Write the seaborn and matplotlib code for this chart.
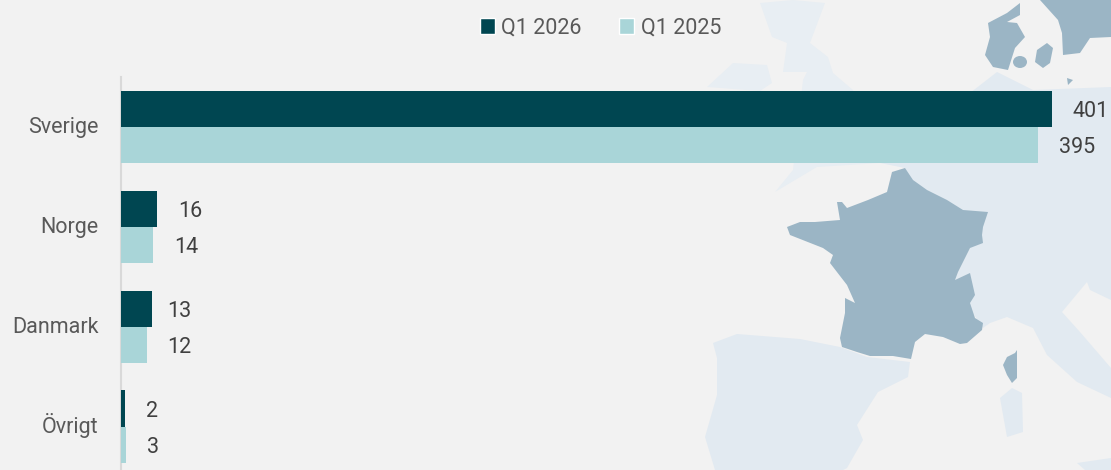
import seaborn as sns
import pandas as pd
import matplotlib.pyplot as plt
from matplotlib.patches import Polygon, Ellipse, Patch
from matplotlib.transforms import ScaledTranslation

categories = ["Sverige", "Norge", "Danmark", "Övrigt"]
# bar lengths, printed labels are the rounded figures
q1_2026 = [401, 15.5, 13.2, 1.6]
q1_2025 = [395, 13.8, 11.1, 2.15]
labels_2026 = ["401", "16", "13", "2"]
labels_2025 = ["395", "14", "12", "3"]
series_names = ["Q1 2026", "Q1 2025"]

BG = "#F2F2F2"
DARK = "#004651"
LIGHT = "#A9D5D8"
MAP_LIGHT = "#E2EAF1"
MAP_FAINT = "#E8EEF3"
MAP_DARK = "#9BB5C5"

# background map, outlines traced by hand in pixels
france = [(787,227),(800,222),(815,222),(840,220),(837,202),(842,202),(847,208),(868,200),(887,192),
          (892,172),(905,168),(913,180),(927,190),(947,200),(963,210),(988,212),(983,227),(982,235),
          (983,243),(970,248),(958,272),(955,280),(970,273),(975,295),(970,303),(975,318),(983,323),
          (982,330),(967,343),(960,344),(943,337),(925,334),(915,342),(911,359),(893,356),(870,356),
          (857,352),(842,347),(840,338),(845,313),(845,298),(855,303),(847,285),(830,263),(833,255),
          (823,248),(790,235)]
corsica = [(1017,350),(1017,378),(1012,383),(1007,375),(1003,365),(1007,357),(1015,353)]
jutland = [(1020,3),(1020,15),(1007,22),(1017,23),(1025,37),(1015,48),(1008,70),(993,67),(985,55),
           (990,37),(988,23),(1007,13)]
zealand = [(1037,50),(1047,43),(1053,48),(1050,63),(1043,68),(1035,62)]
sweden = [(1040,0),(1058,20),(1062,33),(1063,55),(1080,53),(1090,38),(1111,37),(1111,0)]
bornholm = [(1067,78),(1073,80),(1068,85)]
iberia = [(713,343),(737,334),(800,339),(840,347),(867,357),(910,362),(908,377),(878,392),(857,425),
          (863,440),(847,468),(843,470),(715,470),(705,437),(717,395),(717,358)]
europe = [(905,168),(880,163),(997,72),(1033,90),(1111,87),(1111,300),(1090,290),(1087,282),(1062,312),
          (1080,332),(1111,368),(1111,398),(1077,382),(1047,355),(1033,328),(1007,317),(990,323),(983,328),
          (950,280)]
britain = [(760,3),(793,0),(825,3),(810,43),(828,57),(833,73),(853,90),(880,163),(817,167),(775,192),
           (793,170),(803,80),(807,72),(783,72),(787,43),(772,37)]
ireland = [(707,87),(733,63),(767,65),(772,83),(760,91)]
sardinia = [(1000,398),(1012,388),(1022,393),(1023,432),(1007,437)]
sicily = [(1077,463),(1111,458),(1111,470),(1085,470)]

df = pd.DataFrame({
    "Land": categories * 2,
    "Antal": q1_2026 + q1_2025,
    "Period": [series_names[0]] * len(categories) + [series_names[1]] * len(categories),
})

sns.set_theme(style="white")
plt.rcParams["font.family"] = ["Roboto", "DejaVu Sans"]

W, H = 1111, 470
fig = plt.figure(figsize=(W / 100, H / 100), dpi=100, facecolor=BG)

bg = fig.add_axes([0, 0, 1, 1], zorder=0)
bg.set_xlim(0, W)
bg.set_ylim(H, 0)
bg.axis("off")
for shape in [iberia, europe, sardinia, sicily]:
    bg.add_patch(Polygon(shape, closed=True, facecolor=MAP_LIGHT, edgecolor="none"))
for shape in [britain, ireland]:
    bg.add_patch(Polygon(shape, closed=True, facecolor=MAP_FAINT, edgecolor="none"))
for shape in [france, corsica, jutland, zealand, sweden, bornholm]:
    bg.add_patch(Polygon(shape, closed=True, facecolor=MAP_DARK, edgecolor="none", zorder=2))
bg.add_patch(Ellipse((1020, 62), 14, 12, facecolor=MAP_DARK, edgecolor="none", zorder=2))

# axes box runs a little past the bottom edge of the picture
ax = fig.add_axes([121 / W, -6.5 / H, 990 / W, 400 / H], zorder=1)
ax.patch.set_alpha(0)
sns.barplot(data=df, y="Land", x="Antal", hue="Period", order=categories,
            palette=[DARK, LIGHT], width=0.72, gap=0, saturation=1, legend=False,
            linewidth=0, ax=ax)
ax.set_xlim(0, 990 / 2.322)
ax.set_ylim(3.5, -0.5)
ax.set_xlabel("")
ax.set_ylabel("")
ax.set_xticks([])
ax.tick_params(axis="y", length=0, pad=16, labelsize=15.5, labelcolor="#595959")
# same baseline offset for every row, the Ö would push a centred label down
for lab in ax.get_yticklabels():
    lab.set_verticalalignment("baseline")
    lab.set_transform(lab.get_transform() + ScaledTranslation(0, -5 / 72, fig.dpi_scale_trans))
for side in ["top", "right", "bottom"]:
    ax.spines[side].set_visible(False)
ax.spines["left"].set_color("#D9D9D9")
ax.spines["left"].set_linewidth(1.5)
ax.spines["left"].set_zorder(0.5)

for cont, labs in zip(ax.containers, [labels_2026, labels_2025]):
    texts = ax.bar_label(cont, labels=labs, padding=15, fontsize=15.5, color="#404040", clip_on=False)
    for t in texts:
        # labels sit a bit lower than the bar centre in the original
        t.xyann = (15 if t.get_text() != "13" else 11.5, -1.9)

handles = [Patch(facecolor=DARK, label=series_names[0]), Patch(facecolor=LIGHT, label=series_names[1])]
fig.legend(handles=handles, loc="center", bbox_to_anchor=(600.5 / W, 1 - 28 / H), ncol=2, frameon=False,
           fontsize=15.5, labelcolor="#595959", handlelength=0.7, handleheight=0.7,
           handletextpad=0.3, columnspacing=1.75, borderpad=0)

fig.savefig("out.png", dpi=100, facecolor=BG)
